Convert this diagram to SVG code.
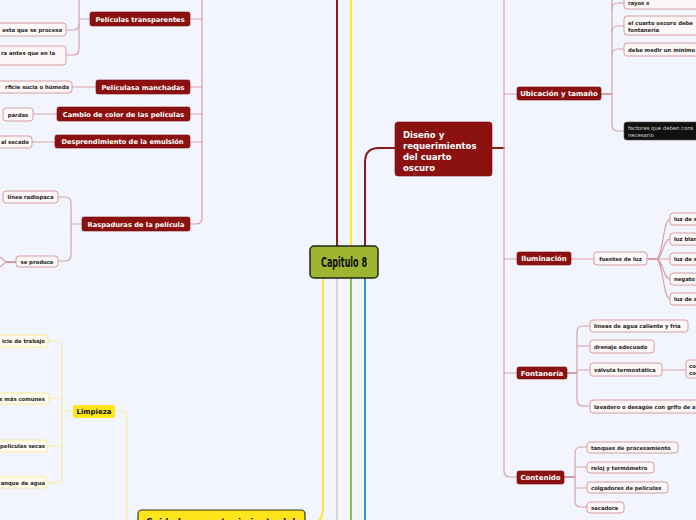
<svg xmlns="http://www.w3.org/2000/svg" width="696" height="520" viewBox="0 0 696 520">
<style>
.bg{fill:#f2f5fd}
.br{fill:#8b1111;stroke:#7a0c0c;stroke-width:0.6}
.brt{font-family:"DejaVu Sans",sans-serif;font-weight:bold;font-size:6.7px;fill:#fff;text-anchor:middle}
.brt2{font-family:"DejaVu Sans",sans-serif;font-weight:bold;font-size:7px;fill:#fff;text-anchor:middle}
.lf{fill:#fdf7f8;stroke:#d49ca2;stroke-width:1}
.ly{fill:#fffdf0;stroke:#fbe99a;stroke-width:1}
.lt{font-family:"DejaVu Sans",sans-serif;font-weight:bold;font-size:5.3px;fill:#222}
.c{fill:none;stroke-linecap:round}
.pr{stroke:#d7a2a7;stroke-width:1.2}
.dr{stroke:#8b1a1a;stroke-width:1.8}
.mr{stroke:#b5474c;stroke-width:1.2}
.py{stroke:#fbeca0;stroke-width:1.2}
</style>
<rect class="bg" x="0" y="0" width="696" height="520"/>
<g id="connectors">
  <!-- central trunks -->
  <path class="c" d="M337,0 V246" stroke="#8b1a1a" stroke-width="2"/>
  <path class="c" d="M351,0 V246" stroke="#ffe92a" stroke-width="2"/>
  <path class="c" d="M365,246 V162 Q365,148 379,148 H395" stroke="#8b1a1a" stroke-width="2"/>
  <path class="c" d="M323,278 V508 Q323,525 306,525 H304" stroke="#ffe92a" stroke-width="2"/>
  <path class="c" d="M337,278 V520" stroke="#d4d5da" stroke-width="2"/>
  <path class="c" d="M351,278 V520" stroke="#8fc04a" stroke-width="2"/>
  <path class="c" d="M365,278 V520" stroke="#2f8fd8" stroke-width="2"/>
  <!-- left red branch -->
  <path class="c pr" d="M202,0 V218 Q202,224 196,224 H190"/>
  <path class="c pr" d="M190,19 H202"/>
  <path class="c pr" d="M190,87 H202"/>
  <path class="c pr" d="M190,114 H202"/>
  <path class="c pr" d="M190,142 H202"/>
  <path class="c pr" d="M90,19 H79"/>
  <path class="c pr" d="M79,0 V49 Q79,55 73,55 H66"/>
  <path class="c pr" d="M66,30 H73 Q79,30 79,24"/>
  <path class="c pr" d="M96,87 H72"/>
  <path class="c pr" d="M57,114 H33"/>
  <path class="c pr" d="M55,142 H32"/>
  <path class="c pr" d="M82,224 H71"/>
  <path class="c pr" d="M58,197 H65 Q71,197 71,203 V255 Q71,261 65,261 H58"/>
  <path class="c mr" d="M16,262 H6"/>
  <path class="c pr" d="M6,262 L0,257 M6,262 L0,267"/>
  <!-- right red branch -->
  <path class="c dr" d="M492,148 H504"/>
  <path class="c pr" d="M504,0 V471 Q504,477 510,477 H517"/>
  <path class="c pr" d="M504,94 H517"/>
  <path class="c pr" d="M504,259 H517"/>
  <path class="c pr" d="M504,373 H517"/>
  <path class="c mr" d="M601,94 H612"/>
  <path class="c pr" d="M612,0 V125 Q612,131 618,131 H624"/>
  <path class="c pr" d="M612,9 Q612,3 618,3 H624"/>
  <path class="c pr" d="M612,32 Q612,26 618,26 H624"/>
  <path class="c pr" d="M612,55 Q612,49 618,49 H624"/>
  <path class="c pr" d="M571,259 H594"/>
  <path class="c mr" d="M647,259 H656"/>
  <path class="c pr" d="M656,259 C663,259 663,219 670,219 M656,259 C663,259 663,239 670,239 M656,259 H670 M656,259 C663,259 663,279 670,279 M656,259 C663,259 663,299 670,299"/>
  <path class="c mr" d="M567,373 H577"/>
  <path class="c pr" d="M590,326 H583 Q577,326 577,332 V400 Q577,406 583,406 H590"/>
  <path class="c pr" d="M577,346 H590 M577,370 H590"/>
  <path class="c pr" d="M662,370 H686"/>
  <path class="c mr" d="M564,477 H575"/>
  <path class="c pr" d="M587,447 H581 Q575,447 575,453 V501 Q575,507 581,507 H587"/>
  <path class="c pr" d="M575,467 H587 M575,488 H587"/>
  <!-- yellow branch -->
  <path class="c py" d="M115,411 H121 Q127,411 127,417 V520"/>
  <path class="c py" d="M73,411 H62"/>
  <path class="c py" d="M48,341 H56 Q62,341 62,347 V477 Q62,483 56,483 H48"/>
  <path class="c py" d="M62,398 H49 M62,446 H48"/>
</g>
<g id="central">
  <rect x="310" y="246" width="68" height="32" rx="4" fill="#9db52f" stroke="#222" stroke-width="1.5"/>
  <text x="344" y="267" text-anchor="middle" font-family="'DejaVu Sans Condensed','DejaVu Sans',sans-serif" font-weight="bold" font-size="14" fill="#111" textLength="46" lengthAdjust="spacingAndGlyphs">Capitulo 8</text>
</g>
<g id="n-transparentes"><rect class="br" x="90" y="12" width="100" height="14" rx="2"/><text class="brt" x="140" y="21.5">Películas transparentes</text></g>
<g id="n-manchadas"><rect class="br" x="96" y="80" width="94" height="14" rx="2"/><text class="brt" x="143" y="89.5">Películasa manchadas</text></g>
<g id="n-cambio"><rect class="br" x="57" y="107" width="133" height="14" rx="2"/><text class="brt" x="123.5" y="116.5">Cambio de color de las películas</text></g>
<g id="n-desprendimiento"><rect class="br" x="55" y="135" width="135" height="13" rx="2"/><text class="brt" x="122.5" y="144">Desprendimiento de la emulsión</text></g>
<g id="n-raspaduras"><rect class="br" x="82" y="217" width="108" height="14" rx="2"/><text class="brt" x="136" y="226.5">Raspaduras de la película</text></g>
<g id="l-procesa"><rect class="lf" x="-20" y="23" width="86" height="13" rx="3"/><text class="lt" x="62" y="31.5" text-anchor="end">esta que se procesa</text></g>
<g id="l-antes"><rect class="lf" x="-20" y="46" width="86" height="19" rx="3"/><text class="lt" x="55" y="55" text-anchor="end">ra antes que en la</text></g>
<g id="l-sucia"><rect class="lf" x="-20" y="81" width="92" height="12" rx="3"/><text class="lt" x="69" y="89" text-anchor="end">rficie sucia o húmeda</text></g>
<g id="l-pardas"><rect class="lf" x="3" y="108" width="30" height="13" rx="3"/><text class="lt" x="18" y="116.5" text-anchor="middle">pardas</text></g>
<g id="l-secado"><rect class="lf" x="-20" y="136" width="52" height="12" rx="3"/><text class="lt" x="29" y="144" text-anchor="end">al secado</text></g>
<g id="l-radiopaca"><rect class="lf" x="3" y="191" width="55" height="12" rx="3"/><text class="lt" x="30.5" y="199" text-anchor="middle">línea radiopaca</text></g>
<g id="l-produce"><rect class="lf" x="16" y="256" width="42" height="11" rx="3"/><text class="lt" x="37" y="263.5" text-anchor="middle">se produce</text></g>
<g id="n-diseno">
  <rect class="br" x="395" y="122" width="97" height="54" rx="3"/>
  <text font-family="'DejaVu Sans',sans-serif" font-weight="bold" font-size="8.5" fill="#fff"><tspan x="403" y="138">Diseño y</tspan><tspan x="403" y="149">requerimientos</tspan><tspan x="403" y="160">del cuarto</tspan><tspan x="403" y="171">oscuro</tspan></text>
</g>
<g id="n-ubicacion"><rect class="br" x="517" y="87" width="84" height="13" rx="2"/><text class="brt2" x="559" y="96">Ubicación y tamaño</text></g>
<g id="n-iluminacion"><rect class="br" x="517" y="252" width="54" height="13" rx="2"/><text class="brt2" x="544" y="261.3">Iluminación</text></g>
<g id="n-fontaneria"><rect class="br" x="517" y="367" width="50" height="12" rx="2"/><text class="brt2" x="542" y="375.8">Fontanería</text></g>
<g id="n-contenido"><rect class="br" x="517" y="471" width="47" height="13" rx="2"/><text class="brt2" x="540.5" y="480.3">Contenido</text></g>
<g id="l-rayos"><rect class="lf" x="624" y="-5" width="90" height="14" rx="3"/><text class="lt" x="628" y="5">rayos x</text></g>
<g id="l-cuarto"><rect class="lf" x="624" y="16" width="90" height="19" rx="3"/><text class="lt"><tspan x="628" y="24.5">el cuarto oscuro debe</tspan><tspan x="628" y="31.5">fontanería</tspan></text></g>
<g id="l-medir"><rect class="lf" x="624" y="43" width="90" height="13" rx="3"/><text class="lt" x="628" y="51.5">debe medir un mínimo</text></g>
<g id="l-factores"><rect x="624" y="122" width="90" height="18" rx="3" fill="#111" stroke="#555" stroke-width="0.6"/><text font-family="'DejaVu Sans',sans-serif" font-size="5.3" fill="#d8d8d8"><tspan x="628" y="130">factores que deben cons</tspan><tspan x="628" y="137">necesario</tspan></text></g>
<g id="l-fuentes"><rect class="lf" x="594" y="252" width="53" height="13" rx="3"/><text class="lt" x="620.5" y="260.8" text-anchor="middle">fuentes de luz</text></g>
<g id="l-luz1"><rect class="lf" x="670" y="213" width="40" height="12" rx="3"/><text class="lt" x="674" y="221">luz de s</text></g>
<g id="l-luz2"><rect class="lf" x="670" y="233" width="40" height="12" rx="3"/><text class="lt" x="674" y="241">luz blan</text></g>
<g id="l-luz3"><rect class="lf" x="670" y="253" width="40" height="12" rx="3"/><text class="lt" x="674" y="261">luz de s</text></g>
<g id="l-luz4"><rect class="lf" x="670" y="273" width="40" height="12" rx="3"/><text class="lt" x="674" y="281">negato</text></g>
<g id="l-luz5"><rect class="lf" x="670" y="293" width="40" height="12" rx="3"/><text class="lt" x="674" y="301">luz de a</text></g>
<g id="l-lineas"><rect class="lf" x="590" y="320" width="98" height="12" rx="3"/><text class="lt" x="594" y="328">líneas de agua caliente y fría</text></g>
<g id="l-drenaje"><rect class="lf" x="590" y="340" width="64" height="13" rx="3"/><text class="lt" x="594" y="348.5">drenaje adecuado</text></g>
<g id="l-valvula"><rect class="lf" x="590" y="363" width="72" height="13" rx="3"/><text class="lt" x="594" y="371.5">válvula termostática</text></g>
<g id="l-co"><rect class="lf" x="686" y="360" width="20" height="18" rx="3"/><text class="lt"><tspan x="689" y="367.5">co</tspan><tspan x="689" y="375">co</tspan></text></g>
<g id="l-lavadero"><rect class="lf" x="590" y="400" width="112" height="13" rx="3"/><text class="lt" x="594" y="408.5">lavadero o desagüe con grifo de a</text></g>
<g id="l-tanques"><rect class="lf" x="587" y="442" width="91" height="11" rx="3"/><text class="lt" x="591" y="449.5">tanques de procesamiento</text></g>
<g id="l-reloj"><rect class="lf" x="587" y="462" width="67" height="11" rx="3"/><text class="lt" x="591" y="469.5">reloj y termómetro</text></g>
<g id="l-colgadores"><rect class="lf" x="587" y="482" width="81" height="11" rx="3"/><text class="lt" x="591" y="489.5">colgadores de películas</text></g>
<g id="l-secadora"><rect class="lf" x="587" y="502" width="37" height="11" rx="3"/><text class="lt" x="591" y="509.5">secadora</text></g>
<g id="n-limpieza"><rect x="73" y="405" width="42" height="13" rx="2" fill="#ffe51c"/><text x="94" y="414" text-anchor="middle" font-family="'DejaVu Sans',sans-serif" font-weight="bold" font-size="7" fill="#111">Limpieza</text></g>
<g id="l-trabajo"><rect class="ly" x="-20" y="335" width="68" height="12" rx="3"/><text class="lt" x="45" y="343" text-anchor="end">icie de trabajo</text></g>
<g id="l-comunes"><rect class="ly" x="-20" y="393" width="69" height="11" rx="3"/><text class="lt" x="45" y="400.5" text-anchor="end">s más comunes</text></g>
<g id="l-secas"><rect class="ly" x="-20" y="440" width="68" height="12" rx="3"/><text class="lt" x="45" y="448" text-anchor="end">películas secas</text></g>
<g id="l-tanque"><rect class="ly" x="-20" y="477" width="68" height="11" rx="3"/><text class="lt" x="45" y="484.5" text-anchor="end">anque de agua</text></g>
<g id="n-cuidado"><rect x="138" y="510" width="167" height="30" rx="4" fill="#ffe51c" stroke="#333" stroke-width="1.2"/><text x="146" y="524.5" font-family="'DejaVu Sans',sans-serif" font-weight="bold" font-size="9" fill="#111">Cuidado y mantenimiento del</text></g>
</svg>
